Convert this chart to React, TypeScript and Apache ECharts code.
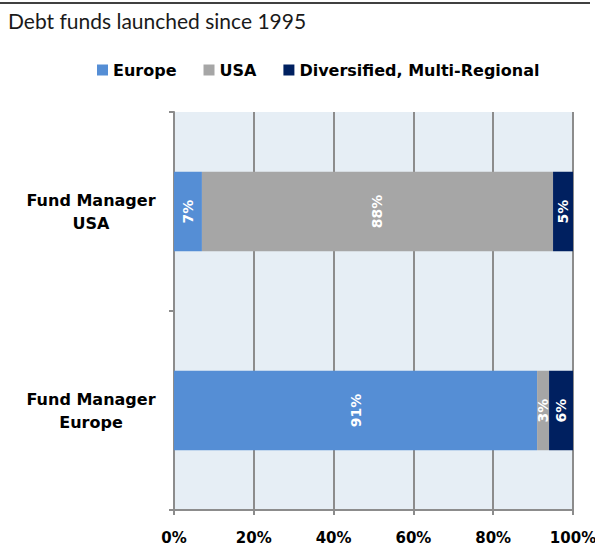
import React, { useEffect, useRef } from "react";
import * as echarts from "echarts";

const categories = ["Fund Manager Europe", "Fund Manager USA"];
const seriesNames = ["Europe", "USA", "Diversified, Multi-Regional"];
const europeValues = [91, 7];
const usaValues = [3, 88];
const diversifiedValues = [6, 5];
const xTicks = [0, 20, 40, 60, 80, 100];

const colors = ["#558ed5", "#a6a6a6", "#002060"];
const TITLE_FONT = "Lato, 'Open Sans', sans-serif";
const BOLD_FONT = "'DejaVu Sans', sans-serif";

export default function App() {
  const ref = useRef<HTMLDivElement>(null);
  useEffect(() => {
    document.body.style.margin = "0";
    document.documentElement.style.overflow = "hidden";
    document.body.style.overflow = "hidden";
    const chart = echarts.init(ref.current!, null, { renderer: "svg" });
    const values = [europeValues, usaValues, diversifiedValues];
    chart.setOption({
      animation: false,
      backgroundColor: "#fff",
      textStyle: { fontFamily: BOLD_FONT },
      graphic: [
        { type: "line", shape: { x1: 0, y1: 3, x2: 590, y2: 3 }, style: { stroke: "#000", lineWidth: 1.5 } },
        {
          type: "text",
          left: 8,
          top: 10,
          style: { text: "Debt funds launched since 1995", font: `21px ${TITLE_FONT}`, fill: "#1a1a1a" },
        },
        {
          type: "rect",
          shape: { x: 174, y: 112, width: 399, height: 398 },
          style: { fill: "#e6eef5" },
          z: -10,
          silent: true,
        },
      ],
      legend: {
        left: 92,
        top: 57,
        itemWidth: 11,
        itemHeight: 11,
        itemGap: 27,
        icon: "rect",
        textStyle: { fontFamily: BOLD_FONT, fontWeight: "bold", fontSize: 16, color: "#000" },
        data: seriesNames,
      },
      grid: {
        left: 174,
        right: 22,
        top: 112,
        bottom: 35,
        containLabel: false,
        outerBoundsMode: "none",
      },
      xAxis: {
        type: "value",
        min: xTicks[0],
        max: xTicks[xTicks.length - 1],
        interval: 20,
        axisLine: { show: true, lineStyle: { color: "#8c8c8c", width: 2 } },
        axisTick: { show: true, length: 5, lineStyle: { color: "#8c8c8c", width: 2 } },
        splitLine: { show: true, lineStyle: { color: "#8c8c8c", width: 2 } },
        axisLabel: {
          formatter: "{value}%",
          fontFamily: BOLD_FONT,
          fontWeight: "bold",
          fontSize: 15,
          color: "#000",
          margin: 20,
        },
      },
      yAxis: {
        type: "category",
        data: categories,
        axisLine: { show: true, lineStyle: { color: "#8c8c8c", width: 2 } },
        axisTick: { show: true, length: 5, lineStyle: { color: "#8c8c8c", width: 2 } },
        axisLabel: {
          formatter: (v: string) => v.replace("Fund Manager ", "Fund Manager\n"),
          fontFamily: BOLD_FONT,
          fontWeight: "bold",
          fontSize: 16,
          lineHeight: 23,
          color: "#000",
          align: "center",
          margin: 83,
        },
      },
      series: seriesNames.map((name, i) => ({
        name,
        type: "bar",
        stack: "total",
        barWidth: "40%",
        data: values[i],
        itemStyle: { color: colors[i] },
        label: {
          show: true,
          position: "inside",
          rotate: 90,
          formatter: "{c}%",
          color: "#fff",
          fontFamily: BOLD_FONT,
          fontWeight: "bold",
          fontSize: 14,
        },
      })),
    });
    return () => chart.dispose();
  }, []);
  return (
    <div
      ref={ref}
      style={{ position: "fixed", left: 0, top: 0, width: 595, height: 545 }}
    />
  );
}
